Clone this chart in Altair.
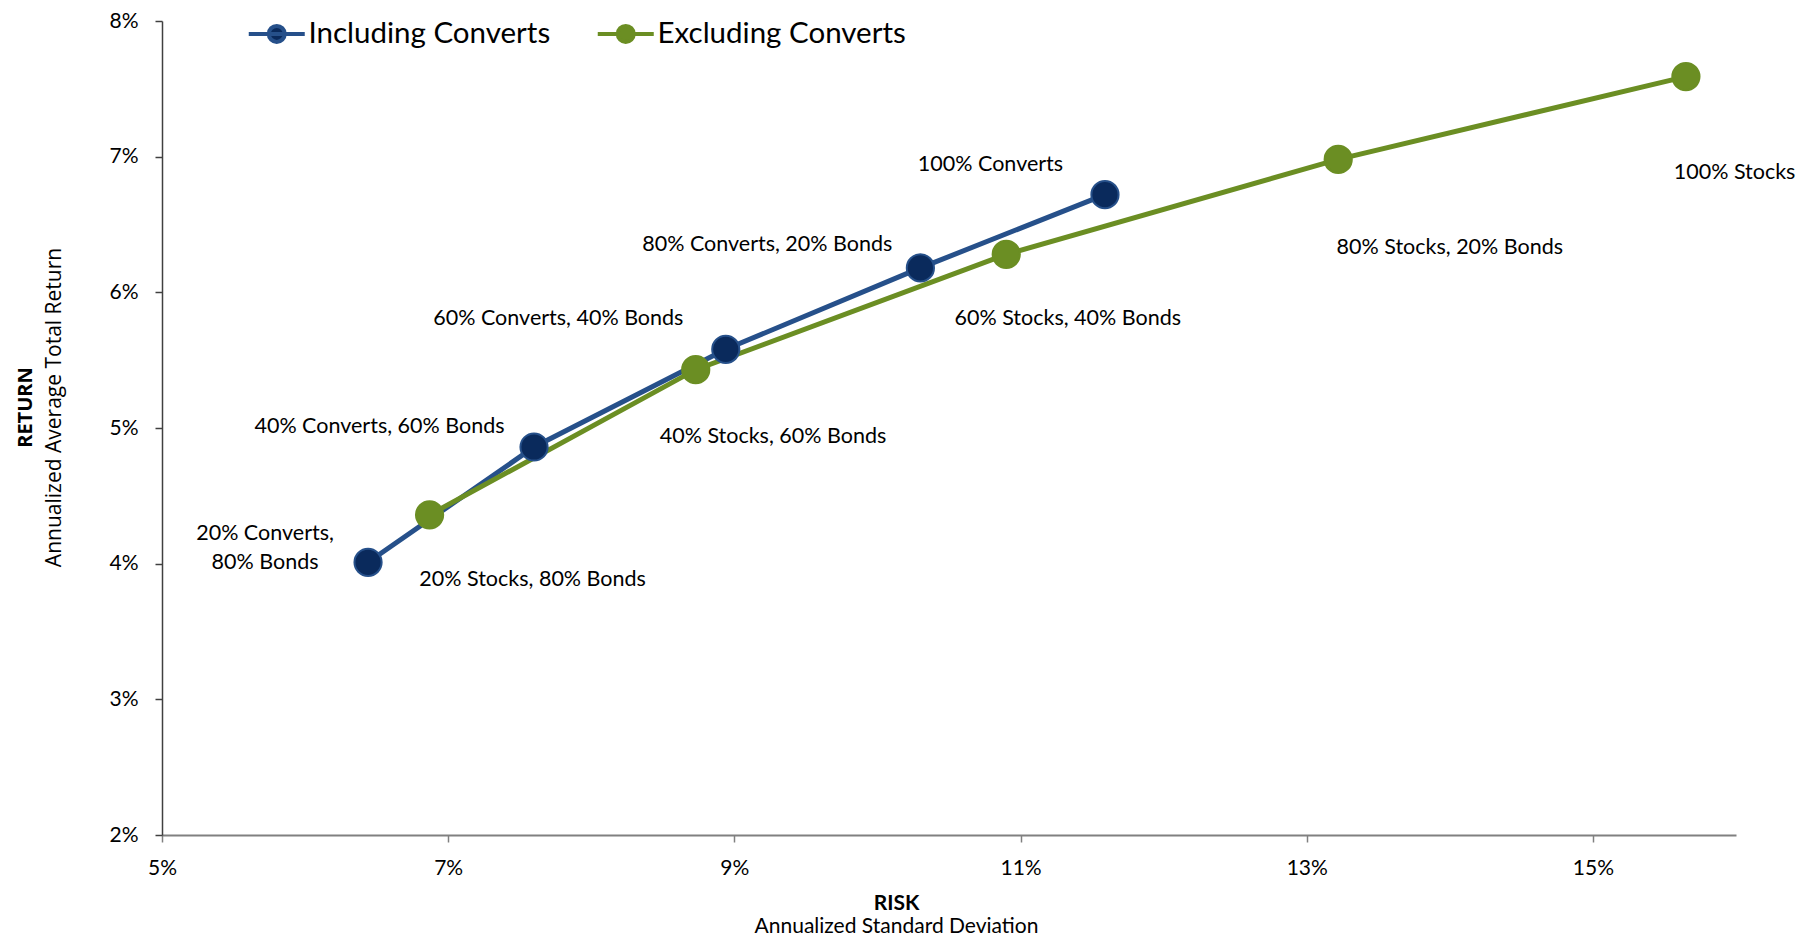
import altair as alt
import pandas as pd

series_names = ["Including Converts", "Excluding Converts"]

inc_labels = ["20% Converts,\n80% Bonds", "40% Converts, 60% Bonds", "60% Converts, 40% Bonds",
              "80% Converts, 20% Bonds", "100% Converts"]
inc_risk = [6.44, 7.60, 8.94, 10.30, 11.59]
inc_return = [4.01, 4.86, 5.58, 6.18, 6.72]
inc_label_risk = [5.72, 6.52, 7.77, 9.23, 10.79]
inc_label_return = [4.22, 5.01, 5.80, 6.35, 6.94]

exc_labels = ["20% Stocks, 80% Bonds", "40% Stocks, 60% Bonds", "60% Stocks, 40% Bonds",
              "80% Stocks, 20% Bonds", "100% Stocks"]
exc_risk = [6.87, 8.73, 10.90, 13.22, 15.65]
exc_return = [4.36, 5.43, 6.28, 6.98, 7.59]
exc_label_risk = [7.59, 9.27, 11.33, 14.00, 15.99]
exc_label_return = [3.88, 4.93, 5.80, 6.33, 6.88]

x_ticks = [5, 7, 9, 11, 13, 15]
y_ticks = [2, 3, 4, 5, 6, 7, 8]

rows = []
for s, labs, xs_, ys_, lxs, lys in [
    (series_names[0], inc_labels, inc_risk, inc_return, inc_label_risk, inc_label_return),
    (series_names[1], exc_labels, exc_risk, exc_return, exc_label_risk, exc_label_return),
]:
    for i in range(len(labs)):
        rows.append({"series": s, "label": labs[i], "risk": xs_[i], "ret": ys_[i],
                     "lx": lxs[i], "ly": lys[i], "order": i})
df = pd.DataFrame(rows)

xscale = alt.Scale(domain=[5, 16], nice=False, zero=False)
yscale = alt.Scale(domain=[2, 8], nice=False, zero=False)
stroke_scale = alt.Scale(domain=series_names, range=["#26508A", "#6B8E23"])
fill_scale = alt.Scale(domain=series_names, range=["#0A2A5C", "#6B8E23"])

sym_path = "M-2.8,0L2.8,0M0.8,0A0.8,0.8,0,1,1,-0.8,0A0.8,0.8,0,1,1,0.8,0Z"
legend = alt.Legend(title=None, orient="none", legendX=100, legendY=-2, direction="horizontal",
                    symbolType=sym_path, symbolSize=400, symbolStrokeWidth=4,
                    labelFont="Lato", labelFontSize=29.5, labelColor="black", labelOffset=17,
                    labelLimit=500, columnPadding=38, padding=0, symbolOpacity=1)

x_axis = alt.Axis(values=x_ticks, labelExpr="datum.value + '%'", title="RISK",
                  titleFont="Lato", titleFontSize=21, titleFontWeight="bold", titleColor="black",
                  titleX=734, titlePadding=14, labelFont="Lato", labelFontSize=21, labelColor="black",
                  labelPadding=15, labelFlush=False, tickSize=7, tickColor="#808080",
                  domainColor="#808080", domainWidth=2, tickWidth=1.5, grid=False)
y_axis = alt.Axis(values=y_ticks, labelExpr="datum.value + '%'",
                  title="Annualized Average Total Return",
                  titleFont="Open Sans", titleFontSize=21, titleFontWeight="normal", titleColor="black",
                  titleY=386, titlePadding=44, labelFont="Lato", labelFontSize=21, labelColor="black",
                  labelPadding=17, labelFlush=False, tickSize=7, tickColor="#404040",
                  domainColor="#404040", domainWidth=1.5, tickWidth=1.5, grid=False)

x_axis2 = alt.Axis(orient="bottom", title="Annualized Standard Deviation", labels=False, ticks=False,
                   domain=False, grid=False, titleFont="Lato", titleFontSize=21,
                   titleFontWeight="normal", titleColor="black", titleX=734, titlePadding=80)
y_axis2 = alt.Axis(orient="left", title="RETURN", labels=False, ticks=False, domain=False, grid=False,
                   titleFont="Open Sans", titleFontSize=20, titleFontWeight="bold", titleColor="black",
                   titleY=386, titlePadding=127)

base = alt.Chart(df)

lines = base.mark_line(strokeWidth=5).encode(
    x=alt.X("risk:Q", scale=xscale, axis=x_axis),
    y=alt.Y("ret:Q", scale=yscale, axis=y_axis),
    stroke=alt.Stroke("series:N", scale=stroke_scale, legend=legend),
    detail="series:N",
    order="order:Q",
)

points = base.mark_point(filled=True, shape="circle", size=740, strokeWidth=2, opacity=1).encode(
    x=alt.X("risk:Q", scale=xscale, axis=None),
    y=alt.Y("ret:Q", scale=yscale, axis=None),
    fill=alt.Fill("series:N", scale=fill_scale, legend=legend),
    stroke=alt.Stroke("series:N", scale=stroke_scale, legend=legend),
)

labels = base.mark_text(font="Lato", fontSize=21.5, lineBreak="\n", align="center", baseline="middle",
                        color="black", lineHeight=29).encode(
    x=alt.X("lx:Q", scale=xscale, axis=x_axis2),
    y=alt.Y("ly:Q", scale=yscale, axis=y_axis2),
    text="label:N",
)

chart = alt.layer(lines, points, labels).resolve_scale(
    x="independent", y="independent"
).properties(
    width=1574, height=814,
    autosize=alt.AutoSizeParams(type="none"),
    padding={"left": 154, "top": 13, "right": 65, "bottom": 100},
).configure_view(stroke=None)

chart.save("out.html", embed_options={"renderer": "svg", "actions": False})
